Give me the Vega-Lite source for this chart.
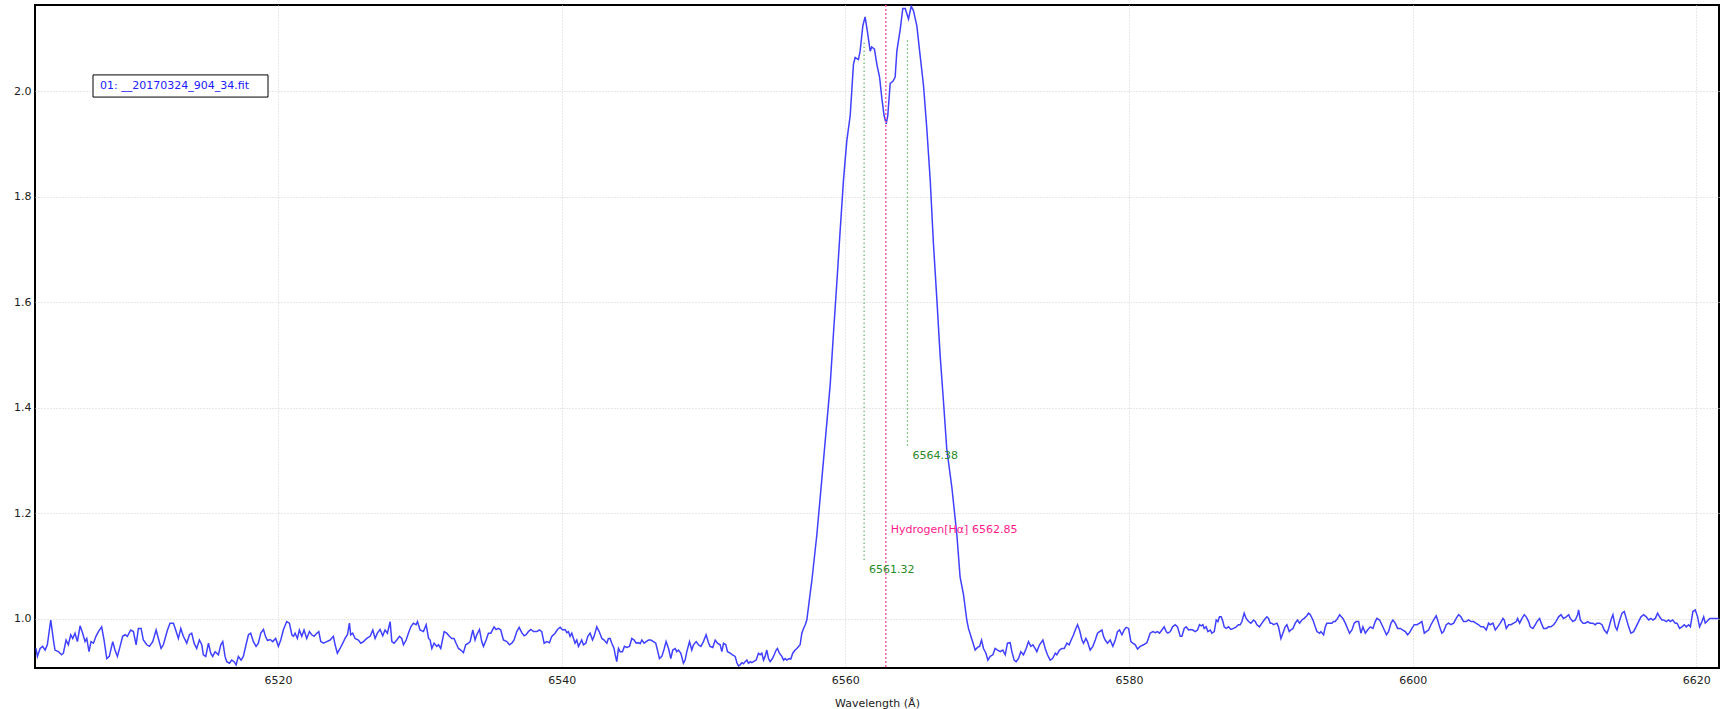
{
"$schema": "https://vega.github.io/schema/vega-lite/v6.json",
"width": 1684, "height": 663,
"autosize": {"type": "none"},
"padding": {"left": 35, "top": 5, "right": 3, "bottom": 41},
"background": "white",
"config": {"font": "DejaVu Sans", "view": {"stroke": "black", "strokeWidth": 2}},
"datasets": {
"spec": [
{"w":6502.93,"f":0.944},{"w":6503.03,"f":0.929},{"w":6503.22,"f":0.944},{"w":6503.40,"f":0.948},{"w":6503.57,"f":0.941},{"w":6503.73,"f":0.951},{"w":6503.97,"f":0.998},{"w":6504.16,"f":0.960},{"w":6504.27,"f":0.941},{"w":6504.51,"f":0.938},{"w":6504.74,"f":0.932},{"w":6504.86,"f":0.935},{"w":6505.05,"f":0.960},{"w":6505.21,"f":0.951},{"w":6505.38,"f":0.970},{"w":6505.52,"f":0.963},{"w":6505.68,"f":0.973},{"w":6505.85,"f":0.957},{"w":6506.04,"f":0.987},{"w":6506.22,"f":0.973},{"w":6506.39,"f":0.957},{"w":6506.51,"f":0.963},{"w":6506.67,"f":0.938},{"w":6506.81,"f":0.957},{"w":6506.98,"f":0.954},{"w":6507.16,"f":0.967},{"w":6507.33,"f":0.976},{"w":6507.56,"f":0.985},{"w":6507.73,"f":0.960},{"w":6507.92,"f":0.925},{"w":6508.10,"f":0.929},{"w":6508.34,"f":0.957},{"w":6508.50,"f":0.941},{"w":6508.67,"f":0.929},{"w":6508.86,"f":0.948},{"w":6509.04,"f":0.967},{"w":6509.21,"f":0.970},{"w":6509.37,"f":0.967},{"w":6509.61,"f":0.979},{"w":6509.80,"f":0.976},{"w":6509.99,"f":0.951},{"w":6510.15,"f":0.982},{"w":6510.34,"f":0.982},{"w":6510.50,"f":0.960},{"w":6510.74,"f":0.951},{"w":6510.93,"f":0.948},{"w":6511.16,"f":0.957},{"w":6511.40,"f":0.979},{"w":6511.56,"f":0.963},{"w":6511.75,"f":0.944},{"w":6511.91,"f":0.951},{"w":6512.20,"f":0.979},{"w":6512.38,"f":0.992},{"w":6512.62,"f":0.992},{"w":6512.78,"f":0.979},{"w":6512.97,"f":0.963},{"w":6513.14,"f":0.982},{"w":6513.32,"f":0.967},{"w":6513.56,"f":0.954},{"w":6513.75,"f":0.970},{"w":6513.91,"f":0.973},{"w":6514.08,"f":0.954},{"w":6514.26,"f":0.944},{"w":6514.45,"f":0.960},{"w":6514.62,"f":0.951},{"w":6514.73,"f":0.932},{"w":6514.90,"f":0.929},{"w":6515.09,"f":0.954},{"w":6515.25,"f":0.935},{"w":6515.39,"f":0.929},{"w":6515.56,"f":0.938},{"w":6515.79,"f":0.932},{"w":6515.96,"f":0.951},{"w":6516.10,"f":0.957},{"w":6516.26,"f":0.929},{"w":6516.38,"f":0.919},{"w":6516.57,"f":0.916},{"w":6516.73,"f":0.922},{"w":6516.90,"f":0.919},{"w":6517.04,"f":0.913},{"w":6517.20,"f":0.929},{"w":6517.39,"f":0.922},{"w":6517.55,"f":0.929},{"w":6517.74,"f":0.951},{"w":6517.91,"f":0.970},{"w":6518.07,"f":0.973},{"w":6518.26,"f":0.957},{"w":6518.45,"f":0.948},{"w":6518.61,"f":0.954},{"w":6518.78,"f":0.973},{"w":6518.97,"f":0.980},{"w":6519.11,"f":0.967},{"w":6519.25,"f":0.959},{"w":6519.44,"f":0.961},{"w":6519.62,"f":0.957},{"w":6519.83,"f":0.963},{"w":6520.02,"f":0.948},{"w":6520.19,"f":0.960},{"w":6520.38,"f":0.980},{"w":6520.61,"f":0.995},{"w":6520.80,"f":0.992},{"w":6520.97,"f":0.970},{"w":6521.08,"f":0.967},{"w":6521.20,"f":0.973},{"w":6521.36,"f":0.963},{"w":6521.50,"f":0.979},{"w":6521.67,"f":0.967},{"w":6521.83,"f":0.979},{"w":6522.02,"f":0.963},{"w":6522.21,"f":0.976},{"w":6522.37,"f":0.970},{"w":6522.54,"f":0.967},{"w":6522.73,"f":0.973},{"w":6522.87,"f":0.976},{"w":6523.01,"f":0.957},{"w":6523.20,"f":0.954},{"w":6523.43,"f":0.957},{"w":6523.67,"f":0.960},{"w":6523.90,"f":0.967},{"w":6524.02,"f":0.951},{"w":6524.18,"f":0.935},{"w":6524.37,"f":0.944},{"w":6524.56,"f":0.954},{"w":6524.72,"f":0.963},{"w":6524.89,"f":0.970},{"w":6525.03,"f":0.992},{"w":6525.12,"f":0.970},{"w":6525.26,"f":0.973},{"w":6525.43,"f":0.963},{"w":6525.66,"f":0.960},{"w":6525.83,"f":0.954},{"w":6526.02,"f":0.957},{"w":6526.25,"f":0.963},{"w":6526.49,"f":0.967},{"w":6526.68,"f":0.979},{"w":6526.84,"f":0.963},{"w":6527.00,"f":0.973},{"w":6527.19,"f":0.980},{"w":6527.38,"f":0.968},{"w":6527.54,"f":0.979},{"w":6527.71,"f":0.973},{"w":6527.90,"f":0.995},{"w":6528.02,"f":0.957},{"w":6528.18,"f":0.954},{"w":6528.37,"f":0.960},{"w":6528.56,"f":0.967},{"w":6528.72,"f":0.963},{"w":6528.84,"f":0.951},{"w":6529.03,"f":0.960},{"w":6529.19,"f":0.973},{"w":6529.36,"f":0.985},{"w":6529.54,"f":0.992},{"w":6529.73,"f":0.989},{"w":6529.83,"f":0.995},{"w":6530.01,"f":0.979},{"w":6530.25,"f":0.976},{"w":6530.44,"f":0.989},{"w":6530.61,"f":0.963},{"w":6530.72,"f":0.960},
{"w":6530.84,"f":0.944},{"w":6531.00,"f":0.954},{"w":6531.19,"f":0.948},{"w":6531.31,"f":0.951},{"w":6531.47,"f":0.944},{"w":6531.71,"f":0.976},{"w":6531.89,"f":0.973},{"w":6532.08,"f":0.967},{"w":6532.25,"f":0.963},{"w":6532.41,"f":0.963},{"w":6532.55,"f":0.954},{"w":6532.72,"f":0.944},{"w":6532.88,"f":0.941},{"w":6533.07,"f":0.936},{"w":6533.23,"f":0.951},{"w":6533.42,"f":0.954},{"w":6533.54,"f":0.957},{"w":6533.73,"f":0.979},{"w":6533.89,"f":0.960},{"w":6534.01,"f":0.970},{"w":6534.20,"f":0.980},{"w":6534.36,"f":0.957},{"w":6534.48,"f":0.948},{"w":6534.67,"f":0.960},{"w":6534.83,"f":0.973},{"w":6535.00,"f":0.973},{"w":6535.23,"f":0.985},{"w":6535.37,"f":0.980},{"w":6535.54,"f":0.982},{"w":6535.70,"f":0.979},{"w":6535.89,"f":0.960},{"w":6536.13,"f":0.957},{"w":6536.31,"f":0.951},{"w":6536.48,"f":0.954},{"w":6536.64,"f":0.960},{"w":6536.83,"f":0.976},{"w":6537.00,"f":0.984},{"w":6537.18,"f":0.974},{"w":6537.35,"f":0.968},{"w":6537.49,"f":0.970},{"w":6537.65,"f":0.976},{"w":6537.82,"f":0.980},{"w":6538.01,"f":0.976},{"w":6538.24,"f":0.976},{"w":6538.43,"f":0.979},{"w":6538.59,"f":0.976},{"w":6538.76,"f":0.954},{"w":6538.95,"f":0.957},{"w":6539.13,"f":0.955},{"w":6539.30,"f":0.967},{"w":6539.53,"f":0.973},{"w":6539.70,"f":0.980},{"w":6539.89,"f":0.984},{"w":6540.07,"f":0.979},{"w":6540.24,"f":0.980},{"w":6540.36,"f":0.974},{"w":6540.47,"f":0.976},{"w":6540.59,"f":0.967},{"w":6540.71,"f":0.973},{"w":6540.83,"f":0.963},{"w":6540.94,"f":0.954},{"w":6541.06,"f":0.960},{"w":6541.18,"f":0.948},{"w":6541.30,"f":0.954},{"w":6541.41,"f":0.960},{"w":6541.53,"f":0.951},{"w":6541.70,"f":0.954},{"w":6541.84,"f":0.967},{"w":6542.00,"f":0.973},{"w":6542.17,"f":0.960},{"w":6542.28,"f":0.967},{"w":6542.47,"f":0.985},{"w":6542.64,"f":0.976},{"w":6542.83,"f":0.963},{"w":6542.99,"f":0.960},{"w":6543.18,"f":0.954},{"w":6543.29,"f":0.963},{"w":6543.41,"f":0.963},{"w":6543.53,"f":0.954},{"w":6543.69,"f":0.944},{"w":6543.77,"f":0.932},{"w":6543.88,"f":0.919},{"w":6544.00,"f":0.944},{"w":6544.12,"f":0.938},{"w":6544.28,"f":0.938},{"w":6544.42,"f":0.948},{"w":6544.59,"f":0.946},{"w":6544.78,"f":0.948},{"w":6544.94,"f":0.963},{"w":6545.11,"f":0.960},{"w":6545.25,"f":0.954},{"w":6545.41,"f":0.955},{"w":6545.53,"f":0.953},{"w":6545.65,"f":0.960},{"w":6545.81,"f":0.954},{"w":6545.95,"f":0.957},{"w":6546.12,"f":0.960},{"w":6546.28,"f":0.960},{"w":6546.47,"f":0.957},{"w":6546.63,"f":0.954},{"w":6546.75,"f":0.941},{"w":6546.89,"f":0.925},{"w":6547.06,"f":0.929},{"w":6547.22,"f":0.943},{"w":6547.36,"f":0.957},{"w":6547.53,"f":0.944},{"w":6547.69,"f":0.925},{"w":6547.83,"f":0.941},{"w":6548.00,"f":0.944},{"w":6548.11,"f":0.938},{"w":6548.23,"f":0.941},{"w":6548.40,"f":0.935},{"w":6548.58,"f":0.916},{"w":6548.70,"f":0.922},{"w":6548.82,"f":0.938},{"w":6549.01,"f":0.957},{"w":6549.17,"f":0.941},{"w":6549.29,"f":0.951},{"w":6549.48,"f":0.957},{"w":6549.64,"f":0.951},{"w":6549.81,"f":0.948},{"w":6549.99,"f":0.957},{"w":6550.18,"f":0.970},{"w":6550.35,"f":0.955},{"w":6550.46,"f":0.948},{"w":6550.65,"f":0.946},{"w":6550.82,"f":0.960},{"w":6550.98,"f":0.954},{"w":6551.17,"f":0.951},{"w":6551.29,"f":0.938},{"w":6551.41,"f":0.954},{"w":6551.57,"f":0.951},{"w":6551.69,"f":0.938},{"w":6551.88,"f":0.935},{"w":6552.04,"f":0.932},{"w":6552.23,"f":0.929},{"w":6552.35,"f":0.917},{"w":6552.46,"f":0.911},{"w":6552.58,"f":0.913},{"w":6552.70,"f":0.917},{"w":6552.82,"f":0.915},{"w":6552.93,"f":0.919},{"w":6553.05,"f":0.922},{"w":6553.17,"f":0.916},{"w":6553.29,"f":0.919},{"w":6553.40,"f":0.917},{"w":6553.52,"f":0.919},{"w":6553.71,"f":0.922},{"w":6553.87,"f":0.935},{"w":6553.99,"f":0.932},{"w":6554.11,"f":0.935},{"w":6554.23,"f":0.922},{"w":6554.34,"f":0.929},{"w":6554.46,"f":0.941},{"w":6554.58,"f":0.925},{"w":6554.70,"f":0.919},{"w":6554.86,"f":0.925},{"w":6554.98,"f":0.932},{"w":6555.12,"f":0.941},{"w":6555.21,"f":0.944},{"w":6555.35,"f":0.935},{"w":6555.52,"f":0.929},{"w":6555.64,"f":0.922},{"w":6555.75,"f":0.925},{"w":6555.87,"f":0.922},{"w":6556.04,"f":0.925},{"w":6556.15,"f":0.924},{"w":6556.29,"f":0.935},{"w":6556.46,"f":0.941},{"w":6556.58,"f":0.944},{"w":6556.81,"f":0.951},{"w":6556.93,"f":0.973},{"w":6557.05,"f":0.982},{"w":6557.17,"f":0.989},{"w":6557.28,"f":0.998},{"w":6557.40,"f":1.023},{"w":6557.52,"f":1.049},
{"w":6557.63,"f":1.071},{"w":6557.99,"f":1.160},{"w":6558.34,"f":1.265},{"w":6558.69,"f":1.371},{"w":6558.93,"f":1.444},{"w":6559.16,"f":1.541},{"w":6559.40,"f":1.638},{"w":6559.63,"f":1.735},{"w":6559.87,"f":1.833},{"w":6560.10,"f":1.906},{"w":6560.34,"f":1.954},{"w":6560.57,"f":2.051},{"w":6560.69,"f":2.064},{"w":6560.92,"f":2.060},{"w":6561.04,"f":2.076},{"w":6561.23,"f":2.124},{"w":6561.39,"f":2.141},{"w":6561.56,"f":2.112},{"w":6561.75,"f":2.076},{"w":6561.86,"f":2.084},{"w":6562.05,"f":2.080},{"w":6562.22,"f":2.051},{"w":6562.41,"f":2.027},{"w":6562.57,"f":1.987},{"w":6562.73,"f":1.954},{"w":6562.88,"f":1.938},{"w":6562.99,"f":1.954},{"w":6563.16,"f":2.015},{"w":6563.35,"f":2.019},{"w":6563.51,"f":2.027},{"w":6563.63,"f":2.076},{"w":6563.86,"f":2.116},{"w":6564.05,"f":2.157},{"w":6564.22,"f":2.157},{"w":6564.45,"f":2.137},{"w":6564.64,"f":2.161},{"w":6564.80,"f":2.153},{"w":6565.04,"f":2.124},{"w":6565.27,"f":2.068},{"w":6565.51,"f":2.011},{"w":6565.74,"f":1.930},{"w":6565.98,"f":1.833},{"w":6566.21,"f":1.711},{"w":6566.45,"f":1.606},{"w":6566.68,"f":1.500},{"w":6566.92,"f":1.411},{"w":6567.15,"f":1.322},{"w":6567.51,"f":1.249},{"w":6567.86,"f":1.160},{"w":6568.09,"f":1.079},{"w":6568.33,"f":1.046},{"w":6568.56,"f":0.998},
{"w":6568.68,"f":0.982},{"w":6568.85,"f":0.967},{"w":6569.04,"f":0.951},{"w":6569.15,"f":0.941},{"w":6569.32,"f":0.946},{"w":6569.46,"f":0.948},{"w":6569.60,"f":0.960},{"w":6569.74,"f":0.944},{"w":6569.91,"f":0.935},{"w":6570.05,"f":0.922},{"w":6570.21,"f":0.929},{"w":6570.40,"f":0.932},{"w":6570.56,"f":0.944},{"w":6570.73,"f":0.941},{"w":6570.92,"f":0.938},{"w":6571.10,"f":0.941},{"w":6571.27,"f":0.932},{"w":6571.43,"f":0.954},{"w":6571.62,"f":0.955},{"w":6571.74,"f":0.938},{"w":6571.90,"f":0.922},{"w":6572.04,"f":0.919},{"w":6572.21,"f":0.925},{"w":6572.37,"f":0.938},{"w":6572.56,"f":0.932},{"w":6572.75,"f":0.944},{"w":6572.91,"f":0.957},{"w":6573.08,"f":0.948},{"w":6573.22,"f":0.951},{"w":6573.38,"f":0.944},{"w":6573.50,"f":0.938},{"w":6573.69,"f":0.951},{"w":6573.93,"f":0.960},{"w":6574.09,"f":0.944},{"w":6574.25,"f":0.932},{"w":6574.44,"f":0.922},{"w":6574.61,"f":0.925},{"w":6574.80,"f":0.935},{"w":6574.91,"f":0.932},{"w":6575.10,"f":0.941},{"w":6575.27,"f":0.944},{"w":6575.43,"f":0.944},{"w":6575.62,"f":0.954},{"w":6575.78,"f":0.951},{"w":6575.92,"f":0.960},{"w":6576.09,"f":0.970},{"w":6576.21,"f":0.979},{"w":6576.37,"f":0.989},{"w":6576.51,"f":0.979},{"w":6576.68,"f":0.960},{"w":6576.79,"f":0.954},{"w":6576.96,"f":0.963},{"w":6577.07,"f":0.957},{"w":6577.26,"f":0.941},{"w":6577.45,"f":0.948},{"w":6577.62,"f":0.960},{"w":6577.78,"f":0.973},{"w":6577.92,"f":0.976},{"w":6578.09,"f":0.979},{"w":6578.20,"f":0.967},{"w":6578.32,"f":0.960},{"w":6578.49,"f":0.954},{"w":6578.67,"f":0.960},{"w":6578.86,"f":0.948},{"w":6579.03,"f":0.960},{"w":6579.19,"f":0.976},{"w":6579.33,"f":0.979},{"w":6579.50,"f":0.970},{"w":6579.66,"f":0.979},{"w":6579.80,"f":0.984},{"w":6579.97,"f":0.982},{"w":6580.13,"f":0.957},{"w":6580.27,"f":0.954},{"w":6580.44,"f":0.951},{"w":6580.60,"f":0.943},{"w":6580.79,"f":0.948},{"w":6581.02,"f":0.951},{"w":6581.26,"f":0.955},{"w":6581.49,"f":0.973},{"w":6581.68,"f":0.976},{"w":6581.85,"f":0.974},{"w":6582.01,"f":0.976},{"w":6582.15,"f":0.973},{"w":6582.32,"f":0.979},{"w":6582.48,"f":0.985},{"w":6582.62,"f":0.976},{"w":6582.74,"f":0.973},{"w":6582.91,"f":0.976},{"w":6583.07,"f":0.985},{"w":6583.26,"f":0.989},{"w":6583.42,"f":0.985},{"w":6583.61,"f":0.967},{"w":6583.73,"f":0.967},{"w":6583.89,"f":0.982},{"w":6584.03,"f":0.985},{"w":6584.20,"f":0.979},{"w":6584.36,"f":0.980},{"w":6584.50,"f":0.979},{"w":6584.67,"f":0.976},{"w":6584.83,"f":0.979},{"w":6584.97,"f":0.989},{"w":6585.09,"f":0.987},{"w":6585.21,"f":0.989},{"w":6585.30,"f":0.982},{"w":6585.44,"f":0.985},{"w":6585.56,"f":0.976},{"w":6585.73,"f":0.979},{"w":6585.84,"f":0.973},{"w":6586.01,"f":0.976},{"w":6586.15,"f":0.998},{"w":6586.27,"f":0.995},{"w":6586.38,"f":1.004},{"w":6586.50,"f":1.004},{"w":6586.62,"f":0.995},{"w":6586.71,"f":0.985},{"w":6586.85,"f":0.982},{"w":6587.02,"f":0.985},{"w":6587.18,"f":0.980},{"w":6587.37,"f":0.982},{"w":6587.56,"f":0.985},{"w":6587.72,"f":0.989},{"w":6587.84,"f":0.989},{"w":6587.96,"f":0.995},{"w":6588.12,"f":1.011},{"w":6588.26,"f":1.001},{"w":6588.43,"f":0.995},{"w":6588.59,"f":0.992},{"w":6588.78,"f":0.998},{"w":6588.90,"f":0.995},{"w":6589.02,"f":0.989},{"w":6589.20,"f":0.985},{"w":6589.37,"f":0.992},{"w":6589.53,"f":0.998},{"w":6589.72,"f":1.004},{"w":6589.84,"f":1.001},{"w":6589.96,"f":0.992},{"w":6590.07,"f":0.992},{"w":6590.19,"f":0.989},{"w":6590.43,"f":0.992},{"w":6590.54,"f":0.985},{"w":6590.71,"f":0.963},{"w":6590.85,"f":0.973},{"w":6591.01,"f":0.985},{"w":6591.13,"f":0.989},{"w":6591.30,"f":0.976},{"w":6591.41,"f":0.979},{"w":6591.56,"f":0.982},{"w":6591.72,"f":0.992},{"w":6591.88,"f":0.998},{"w":6592.03,"f":0.992},{"w":6592.19,"f":0.998},{"w":6592.35,"f":1.001},{"w":6592.54,"f":1.006},{"w":6592.66,"f":1.011},{"w":6592.78,"f":1.008},{"w":6592.97,"f":0.998},{"w":6593.13,"f":0.985},{"w":6593.25,"f":0.976},{"w":6593.44,"f":0.973},{"w":6593.53,"f":0.976},{"w":6593.72,"f":0.970},{"w":6593.84,"f":0.985},{"w":6593.95,"f":0.992},{"w":6594.14,"f":0.992},{"w":6594.31,"f":0.992},{"w":6594.42,"f":0.995},{"w":6594.54,"f":0.995},{"w":6594.71,"f":1.001},{"w":6594.85,"f":1.008},
{"w":6595.08,"f":1.001},{"w":6595.25,"f":0.992},{"w":6595.41,"f":0.982},{"w":6595.55,"f":0.973},{"w":6595.72,"f":0.979},{"w":6595.88,"f":0.992},{"w":6596.02,"f":0.995},{"w":6596.19,"f":0.995},{"w":6596.35,"f":0.973},{"w":6596.49,"f":0.985},{"w":6596.66,"f":0.973},{"w":6596.82,"f":0.979},{"w":6597.01,"f":0.985},{"w":6597.20,"f":0.982},{"w":6597.36,"f":0.995},{"w":6597.48,"f":1.001},{"w":6597.67,"f":0.998},{"w":6597.83,"f":0.989},{"w":6598.00,"f":0.979},{"w":6598.15,"f":0.970},{"w":6598.30,"f":0.976},{"w":6598.47,"f":0.992},{"w":6598.61,"f":0.998},{"w":6598.77,"f":0.992},{"w":6598.94,"f":0.982},{"w":6599.13,"f":0.982},{"w":6599.31,"f":0.979},{"w":6599.48,"f":0.976},{"w":6599.64,"f":0.970},{"w":6599.78,"f":0.974},{"w":6599.95,"f":0.982},{"w":6600.11,"f":0.989},{"w":6600.30,"f":0.989},{"w":6600.49,"f":0.992},{"w":6600.65,"f":0.995},{"w":6600.82,"f":0.973},{"w":6600.96,"f":0.976},{"w":6601.12,"f":0.979},{"w":6601.29,"f":0.989},{"w":6601.48,"f":0.998},{"w":6601.66,"f":1.006},{"w":6601.76,"f":0.998},{"w":6601.90,"f":0.985},{"w":6602.06,"f":0.973},{"w":6602.18,"f":0.976},{"w":6602.37,"f":0.989},{"w":6602.53,"f":0.992},{"w":6602.70,"f":0.989},{"w":6602.89,"f":0.992},{"w":6603.07,"f":1.001},{"w":6603.24,"f":1.008},{"w":6603.40,"f":1.004},{"w":6603.59,"f":0.995},{"w":6603.78,"f":0.995},{"w":6603.94,"f":0.998},{"w":6604.11,"f":0.995},{"w":6604.30,"f":0.995},{"w":6604.46,"f":0.992},{"w":6604.65,"f":0.989},{"w":6604.81,"f":0.985},{"w":6605.00,"f":0.985},{"w":6605.19,"f":0.979},{"w":6605.35,"f":0.992},{"w":6605.47,"f":0.989},{"w":6605.66,"f":0.992},{"w":6605.83,"f":0.979},{"w":6605.99,"f":0.985},{"w":6606.18,"f":0.992},{"w":6606.37,"f":1.001},{"w":6606.46,"f":0.998},{"w":6606.60,"f":0.982},{"w":6606.77,"f":0.989},{"w":6606.93,"f":0.989},{"w":6607.12,"f":0.992},{"w":6607.31,"f":0.995},{"w":6607.40,"f":1.001},{"w":6607.54,"f":0.992},{"w":6607.71,"f":1.001},{"w":6607.87,"f":1.008},{"w":6608.01,"f":1.004},{"w":6608.18,"f":0.995},{"w":6608.29,"f":0.985},{"w":6608.48,"f":0.982},{"w":6608.65,"f":0.989},{"w":6608.76,"f":0.995},{"w":6608.95,"f":1.001},{"w":6609.07,"f":0.992},{"w":6609.23,"f":0.982},{"w":6609.42,"f":0.982},{"w":6609.59,"f":0.985},{"w":6609.75,"f":0.985},{"w":6609.94,"f":0.989},{"w":6610.10,"f":0.995},{"w":6610.29,"f":1.004},{"w":6610.46,"f":1.008},{"w":6610.64,"f":1.001},{"w":6610.83,"f":1.004},{"w":6611.00,"f":1.008},{"w":6611.11,"f":1.001},{"w":6611.30,"f":0.995},{"w":6611.47,"f":0.998},{"w":6611.63,"f":1.008},{"w":6611.70,"f":1.017},{"w":6611.82,"f":0.998},{"w":6612.01,"f":0.992},{"w":6612.17,"f":0.992},{"w":6612.34,"f":0.995},{"w":6612.52,"f":0.992},{"w":6612.69,"f":0.992},{"w":6612.88,"f":0.989},{"w":6612.99,"f":0.992},{"w":6613.18,"f":0.992},{"w":6613.35,"f":0.989},{"w":6613.51,"f":0.979},{"w":6613.70,"f":0.973},{"w":6613.82,"f":0.982},{"w":6613.98,"f":0.998},{"w":6614.12,"f":1.008},{"w":6614.29,"f":0.985},{"w":6614.41,"f":0.979},{"w":6614.57,"f":0.995},{"w":6614.76,"f":1.011},{"w":6614.92,"f":1.014},{"w":6615.06,"f":1.001},{"w":6615.23,"f":0.985},{"w":6615.39,"f":0.973},{"w":6615.58,"f":0.976},{"w":6615.75,"f":0.985},{"w":6615.93,"f":0.995},{"w":6616.10,"f":1.004},{"w":6616.29,"f":1.008},{"w":6616.47,"f":1.004},{"w":6616.64,"f":0.998},{"w":6616.80,"f":1.001},{"w":6616.94,"f":0.998},{"w":6617.11,"f":1.001},{"w":6617.27,"f":1.011},{"w":6617.41,"f":1.004},{"w":6617.58,"f":0.998},{"w":6617.70,"f":0.998},{"w":6617.88,"f":0.995},{"w":6618.05,"f":0.998},{"w":6618.17,"f":0.995},{"w":6618.33,"f":0.998},{"w":6618.52,"f":0.992},{"w":6618.64,"f":0.992},{"w":6618.82,"f":0.982},{"w":6618.99,"f":0.985},{"w":6619.15,"f":0.989},{"w":6619.29,"f":0.985},{"w":6619.46,"f":0.989},{"w":6619.58,"f":0.985},{"w":6619.76,"f":1.014},{"w":6619.93,"f":1.017},{"w":6620.09,"f":1.004},{"w":6620.23,"f":0.985},{"w":6620.40,"f":0.995},{"w":6620.52,"f":1.004},{"w":6620.63,"f":0.992},{"w":6620.75,"f":0.995},{"w":6620.94,"f":1.001},{"w":6621.10,"f":1.001},{"w":6621.22,"f":1.001},{"w":6621.46,"f":1.001},{"w":6621.58,"f":1.001}
]
},
"layer": [
{
"data": {"name": "spec"},
"mark": {"type": "line", "color": "#4040ff", "strokeWidth": 1.5, "clip": true},
"encoding": {
"x": {"field": "w", "type": "quantitative",
"scale": {"domain": [6502.86, 6621.6], "nice": false, "zero": false},
"axis": {"title": "Wavelength (Å)", "values": [6520, 6540, 6560, 6580, 6600, 6620], "format": "d", "grid": true, "gridColor": "#d0d0d0", "gridDash": [1, 2], "domain": false, "ticks": false, "labelFontSize": 11, "labelColor": "#222", "labelPadding": 6, "titleFontSize": 11, "titleFontWeight": "normal", "titleColor": "#222", "titlePadding": 12}},
"y": {"field": "f", "type": "quantitative",
"scale": {"domain": [0.907, 2.1635], "nice": false, "zero": false},
"axis": {"title": null, "values": [1.0, 1.2, 1.4, 1.6, 1.8, 2.0], "format": ".1f", "grid": true, "gridColor": "#d0d0d0", "gridDash": [1, 2], "domain": false, "ticks": false, "labelFontSize": 11, "labelColor": "#222", "labelPadding": 4}}
}
},
{
"data": {"values": [{"w": 6562.85}]},
"mark": {"type": "rule", "color": "#ff5fae", "strokeWidth": 1.5, "strokeDash": [2, 2]},
"encoding": {"x": {"field": "w", "type": "quantitative"}}
},
{
"data": {"values": [{"w": 6561.32, "f": 2.092, "f2": 1.112}, {"w": 6564.38, "f": 2.096, "f2": 1.326}]},
"mark": {"type": "rule", "color": "#2a9a2a", "strokeWidth": 1.3, "strokeDash": [1, 3]},
"encoding": {"x": {"field": "w", "type": "quantitative"}, "y": {"field": "f", "type": "quantitative"}, "y2": {"field": "f2"}}
},
{
"data": {"values": [{"w": 6561.32, "f": 1.093, "label": "6561.32"}, {"w": 6564.38, "f": 1.309, "label": "6564.38"}]},
"mark": {"type": "text", "align": "left", "baseline": "middle", "dx": 5, "fontSize": 11, "color": "#2a8a2a"},
"encoding": {"x": {"field": "w", "type": "quantitative"}, "y": {"field": "f", "type": "quantitative"}, "text": {"field": "label"}}
},
{
"data": {"values": [{"w": 6562.85, "f": 1.169, "label": "Hydrogen[Hα] 6562.85"}]},
"mark": {"type": "text", "align": "left", "baseline": "middle", "dx": 5, "fontSize": 11, "color": "#ff1a8c"},
"encoding": {"x": {"field": "w", "type": "quantitative"}, "y": {"field": "f", "type": "quantitative"}, "text": {"field": "label"}}
},
{
"data": {"values": [{"w": 6506.95, "w2": 6519.29, "f": 2.031, "f2": 1.989}]},
"mark": {"type": "rect", "fill": "white", "stroke": "black", "strokeWidth": 1},
"encoding": {"x": {"field": "w", "type": "quantitative"}, "x2": {"field": "w2"}, "y": {"field": "f", "type": "quantitative"}, "y2": {"field": "f2"}}
},
{
"data": {"values": [{"w": 6507.45, "f": 2.010, "label": "01: __20170324_904_34.fit"}]},
"mark": {"type": "text", "align": "left", "baseline": "middle", "fontSize": 11, "color": "#2020ff"},
"encoding": {"x": {"field": "w", "type": "quantitative"}, "y": {"field": "f", "type": "quantitative"}, "text": {"field": "label"}}
}
]
}
